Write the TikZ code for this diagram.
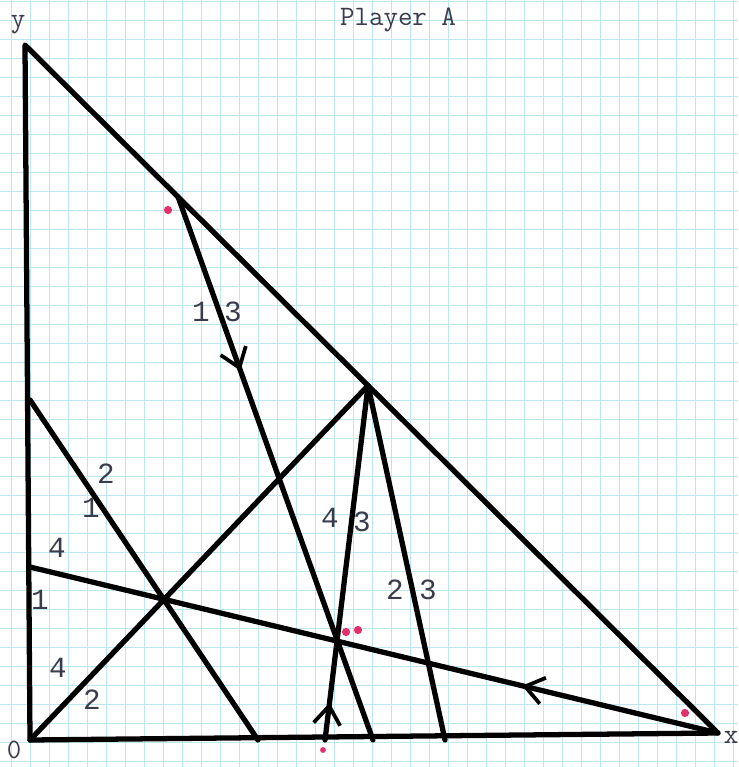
\documentclass[tikz,border=0pt]{standalone}
\usepackage{fontspec}
\usetikzlibrary{calc,arrows.meta,decorations.markings}
\newfontfamily\typefont{Liberation Mono}
\definecolor{GridBlue}{RGB}{188,230,240}
\definecolor{DotPink}{RGB}{226,48,108}
\definecolor{InkGrey}{RGB}{58,60,78}

\begin{document}
\begin{tikzpicture}[
x=0.03cm,y=-0.03cm,
edge/.style={line width=4.5pt,line cap=round,line join=round},
gridline/.style={draw=GridBlue,line width=0.7pt},
tag/.style={font=\typefont\fontsize{25}{25}\selectfont,text=InkGrey,inner sep=0pt},
axis/.style={font=\ttfamily\fontsize{24}{24}\selectfont,text=InkGrey,inner sep=0pt},
dot/.style={circle,fill=DotPink,inner sep=0pt,minimum size=7pt},
midarrow/.style={postaction={decorate},decoration={markings,
  mark=at position #1 with {\arrow{Straight Barb[length=5.5mm,width=8mm,line width=3.2pt]}}}}
]
\useasboundingbox[fill=white] (0,0) rectangle (738,767);
% graph paper
\foreach \gx in {0,...,38} \draw[gridline] ({11+19*\gx},0) -- ({11+19*\gx},767);
\foreach \gy in {0,...,40} \draw[gridline] (0,{1+19*\gy}) -- (738,{1+19*\gy});

% corners of the triangle
\coordinate (Y) at (25,45);
\coordinate (O) at (30,740);
\coordinate (X) at (718,733);
% points on the sides
\coordinate (P) at ($(Y)!0.495!(X)$);
\coordinate (Q) at ($(Y)!0.221!(X)$);
\coordinate (A) at (30,400);
\coordinate (C) at (30,567);
\coordinate (B) at (258,740);
\coordinate (D) at (373,740);
\coordinate (E) at (325,740);
\coordinate (F) at (445,740);

\draw[edge] (Y) -- (O) -- (X) -- cycle;
\draw[edge] (A) -- (B);
\draw[edge,midarrow=0.285] (X) -- (C);
\draw[edge] (O) -- (P);
\draw[edge,midarrow=0.32] (Q) -- (D);
\draw[edge,midarrow=0.105] (E) -- (P);
\draw[edge] (P) -- (F);

\node[axis] (title) at (398,20) {Player A};
\node[axis] (ylab) at (18,25) {y};
\node[axis] (olab) at (14,750) {0};
\node[axis] (xlab) at (731,737) {x};

\node[tag] (n13a) at (201,312) {1};
\node[tag] (n13b) at (233,312) {3};
\node[tag] (n21a) at (106,474) {2};
\node[tag] (n21b) at (91,508) {1};
\node[tag] (n4a) at (57,548) {4};
\node[tag] (n1) at (40,600) {1};
\node[tag] (n4b) at (58,668) {4};
\node[tag] (n2) at (92,700) {2};
\node[tag] (n43a) at (330,518) {4};
\node[tag] (n43b) at (362,522) {3};
\node[tag] (n23a) at (395,590) {2};
\node[tag] (n23b) at (428,590) {3};

\node[dot] (d1) at (168,210) {};
\node[dot] (d2) at (346,632) {};
\node[dot] (d3) at (358,630) {};
\node[dot] (d4) at (685,713) {};
\node[dot,minimum size=5pt] (d5) at (323,750) {};
\end{tikzpicture}
\end{document}
